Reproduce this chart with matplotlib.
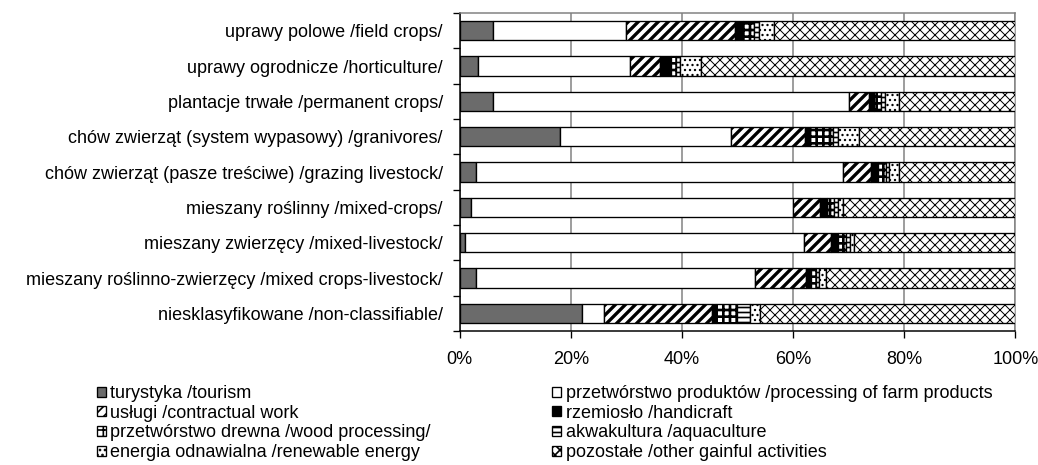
import matplotlib
matplotlib.use('Agg')
import matplotlib.pyplot as plt
import numpy as np

plt.rcParams['font.family'] = ['Liberation Sans', 'DejaVu Sans']

# kategorie (od góry)
categories = [
    'uprawy polowe /field crops/',
    'uprawy ogrodnicze /horticulture/',
    'plantacje trwałe /permanent crops/',
    'chów zwierząt (system wypasowy) /granivores/',
    'chów zwierząt (pasze treściwe) /grazing livestock/',
    'mieszany roślinny /mixed-crops/',
    'mieszany zwierzęcy /mixed-livestock/',
    'mieszany roślinno-zwierzęcy /mixed crops-livestock/',
    'niesklasyfikowane /non-classifiable/',
]

# udzialy w %
turystyka = [6, 3.3, 6, 18, 3, 2, 1, 3, 22]
przetworstwo = [24, 27.3, 64, 30.9, 66, 58, 61, 50.1, 4]
uslugi = [19.5, 5.5, 3.7, 13.2, 5, 4.8, 4.9, 9.2, 19.4]
rzemioslo = [1.4, 1.9, 0.9, 0.9, 1.3, 1.3, 1.2, 0.9, 0.7]
drewno = [2.0, 1.0, 1.2, 4.1, 1.4, 1.3, 1.5, 1.0, 3.8]
akwakultura = [1.0, 0.7, 0.8, 1.0, 0.6, 0.6, 0.7, 0.5, 2.3]
energia = [2.7, 3.8, 2.4, 3.8, 1.7, 1.0, 0.7, 1.2, 1.8]
pozostale = [43.4, 56.5, 21.0, 28.1, 21.0, 31.0, 29.0, 34.1, 46.0]

series_labels = [
    'turystyka /tourism',
    'przetwórstwo produktów /processing of farm products',
    'usługi /contractual work',
    'rzemiosło /handicraft',
    'przetwórstwo drewna /wood processing/',
    'akwakultura /aquaculture',
    'energia odnawialna /renewable energy',
    'pozostałe /other gainful activities',
]
x_ticks = [0, 20, 40, 60, 80, 100]

series = [turystyka, przetworstwo, uslugi, rzemioslo, drewno, akwakultura, energia, pozostale]
# styl: (kolor, hatch, grubosc hatch)
styles = [
    ('#6b6b6b', None, 1.0),
    ('white', None, 1.0),
    ('white', '////', 2.0),
    ('black', None, 1.0),
    ('white', '+++', 1.6),
    ('white', '----', 1.0),
    ('white', '....', 0.8),
    ('white', 'xxxx', 0.6),
]

FS = 10.8

fig = plt.figure(figsize=(8.65, 3.875), dpi=120)
ax = fig.add_axes([0.4427, 0.288, 0.5356, 0.684])

y = np.arange(len(categories))
left = np.zeros(len(categories))
handles = []
for vals, (fc, hatch, hlw) in zip(series, styles):
    vals = np.array(vals)
    with plt.rc_context({'hatch.linewidth': hlw}):
        bars = ax.barh(y, vals, left=left, height=0.55, color=fc,
                       edgecolor='black', linewidth=0.8, hatch=hatch, zorder=3)
        for b in bars:
            if hasattr(b, 'set_hatch_linewidth'):
                b.set_hatch_linewidth(hlw)
    handles.append(bars)
    left = left + vals

ax.set_xlim(0, 100)
ax.set_ylim(len(categories) - 0.5, -0.5)
ax.set_xticks(x_ticks)
ax.set_xticklabels([f'{t}%' for t in x_ticks], fontsize=FS)
ax.set_yticks(y)
ax.set_yticklabels(categories, fontsize=FS)
ax.set_yticks(np.arange(len(categories) + 1) - 0.5, minor=True)
ax.tick_params(axis='y', which='major', length=0, pad=10)
ax.tick_params(axis='y', which='minor', length=4, width=0.8, direction='out')
ax.tick_params(axis='x', length=4, width=0.8, direction='out', pad=8)

ax.grid(axis='x', color='#808080', linewidth=0.9, zorder=0)
for s in ['top', 'right']:
    ax.spines[s].set_color('#808080')
    ax.spines[s].set_linewidth(0.9)
for s in ['left', 'bottom']:
    ax.spines[s].set_linewidth(0.9)

# legenda w dwoch kolumnach
leg_kw = dict(frameon=False, fontsize=FS, handlelength=0.5, handleheight=0.5,
              handletextpad=0.25, labelspacing=0.15, borderaxespad=0, borderpad=0)
col1 = [0, 2, 4, 6]
col2 = [1, 3, 5, 7]
fig.legend([handles[i] for i in col1], [series_labels[i] for i in col1],
           loc='upper left', bbox_to_anchor=(0.093, 0.172), **leg_kw)
fig.legend([handles[i] for i in col2], [series_labels[i] for i in col2],
           loc='upper left', bbox_to_anchor=(0.532, 0.172), **leg_kw)

fig.savefig('out.png', dpi=120)
